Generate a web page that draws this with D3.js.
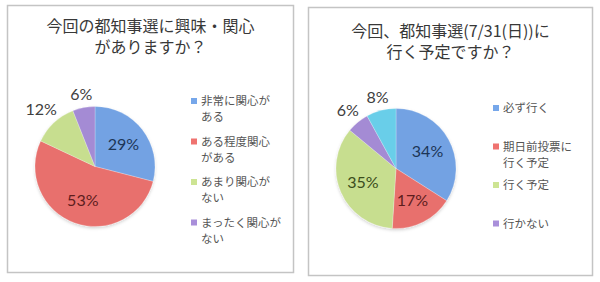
<!DOCTYPE html>
<html>
<head>
<meta charset="utf-8">
<script src="https://cdn.jsdelivr.net/npm/d3@7"></script>
<style>
  html, body { margin: 0; padding: 0; background: #fff; }
  svg { display: block; }
</style>
</head>
<body>
<svg id="chart" width="600" height="282"></svg>
<script>
// Survey: interest in the Tokyo gubernatorial election
const interestTitle = ["今回の都知事選に興味・関心", "がありますか？"];
const interestCategories = [["非常に関心が", "ある"], ["ある程度関心", "がある"], ["あまり関心が", "ない"], ["まったく関心が", "ない"]];
const interestValues = [29, 53, 12, 6];
const interestColors = ["#76a7ea", "#ef7370", "#cde493", "#a98fda"];
const interestLabelColors = ["#1c3557", "#5e1d1d", "#404040", "#404040"];

// Survey: plan to vote on election day
const voteTitle = ["今回、都知事選(7/31(日))に", "行く予定ですか？"];
const voteCategories = [["必ず行く"], ["期日前投票に", "行く予定"], ["行く予定"], ["行かない"], ["無回答"]];
const voteValues = [34, 17, 35, 6, 8];
const voteColors = ["#76a7ea", "#ef7370", "#cde493", "#a98fda", "#6cd4f0"];
const voteLabelColors = ["#1c3557", "#5e1d1d", "#3b4d1c", "#404040", "#404040"];
const voteLegendCount = 4;

const svg = d3.select("#chart");
const defs = svg.append("defs");

const shadow = defs.append("filter").attr("id", "pieShadow")
  .attr("x", "-20%").attr("y", "-20%").attr("width", "140%").attr("height", "140%");
shadow.append("feDropShadow").attr("dx", 0).attr("dy", 1.5)
  .attr("stdDeviation", 1.5).attr("flood-color", "#000").attr("flood-opacity", 0.18);

function panel(opts) {
  const g = svg.append("g");
  const midX = opts.frame[0] + opts.frame[2] / 2;

  // frame
  g.append("rect")
    .attr("x", opts.frame[0]).attr("y", opts.frame[1])
    .attr("width", opts.frame[2]).attr("height", opts.frame[3])
    .attr("fill", "#fff").attr("stroke", "#c4c4c4").attr("stroke-width", 1.5);

  // title, one text per line
  opts.title.forEach((line, i) => {
    g.append("text")
      .attr("x", midX)
      .attr("y", opts.titleY + i * 21)
      .attr("text-anchor", "middle")
      .attr("font-family", "'Noto Sans CJK JP', sans-serif")
      .attr("font-size", 16)
      .attr("fill", "#383838")
      .text(line);
  });

  // pie
  const [cx, cy] = opts.center;
  const r = opts.radius;
  const pie = d3.pie().sort(null).value(d => d)(opts.values);
  const arc = d3.arc().innerRadius(0).outerRadius(r);

  opts.colors.forEach((c, i) => {
    const grad = defs.append("radialGradient")
      .attr("id", `${opts.id}-grad-${i}`)
      .attr("gradientUnits", "userSpaceOnUse")
      .attr("cx", cx).attr("cy", cy - r * 0.2).attr("r", r * 1.2)
      .attr("fx", cx).attr("fy", cy - r * 0.2);
    grad.append("stop").attr("offset", "0%").attr("stop-color", d3.color(c).brighter(0.25));
    grad.append("stop").attr("offset", "100%").attr("stop-color", d3.color(c).darker(0.08));
  });

  g.append("g").attr("filter", "url(#pieShadow)")
    .selectAll("path").data(pie).join("path")
    .attr("transform", `translate(${cx},${cy})`)
    .attr("d", arc)
    .attr("fill", (d, i) => `url(#${opts.id}-grad-${i})`)
    .attr("stroke", "rgba(255,255,255,0.4)")
    .attr("stroke-width", 0.6);

  // percentage labels: large slices inside, small ones outside
  const total = d3.sum(opts.values);
  pie.forEach((d, i) => {
    const mid = (d.startAngle + d.endAngle) / 2;
    const inside = d.value / total >= 0.15;
    const text = `${d.value}%`;
    const fs = 16;
    const hw = text.length * fs * 0.27;
    const hh = fs * 0.5;
    const dist = inside
      ? r * 0.6
      : r + 4 + hw * Math.abs(Math.sin(mid)) + hh * Math.abs(Math.cos(mid));
    g.append("text")
      .attr("x", cx + dist * Math.sin(mid))
      .attr("y", cy - dist * Math.cos(mid))
      .attr("dy", "0.35em")
      .attr("text-anchor", "middle")
      .attr("font-family", "Lato, 'Noto Sans', sans-serif")
      .attr("font-size", fs)
      .attr("fill", opts.labelColors[i])
      .text(text);
  });

  // legend
  const lg = g.append("g").attr("transform", `translate(${opts.legend[0]},${opts.legend[1]})`);
  opts.categories.slice(0, opts.legendCount).forEach((lines, i) => {
    const row = lg.append("g").attr("transform", `translate(0,${opts.legendStep * i})`);
    row.append("rect")
      .attr("x", 0).attr("y", -3).attr("width", 6).attr("height", 6)
      .attr("fill", opts.colors[i]);
    lines.forEach((line, j) => {
      row.append("text")
        .attr("x", 10).attr("y", j * 16)
        .attr("dy", "0.35em")
        .attr("font-family", "'Noto Sans CJK JP', sans-serif")
        .attr("font-size", 11.5)
        .attr("fill", "#555")
        .text(line);
    });
  });
}

panel({
  id: "interest",
  frame: [7.5, 5.5, 286, 267],
  title: interestTitle,
  titleY: 32,
  center: [95, 166.5],
  radius: 60,
  values: interestValues,
  colors: interestColors,
  labelColors: interestLabelColors,
  categories: interestCategories,
  legendCount: interestCategories.length,
  legend: [191, 101],
  legendStep: 40.5
});

panel({
  id: "vote",
  frame: [308.5, 7.5, 284, 268],
  title: voteTitle,
  titleY: 37,
  center: [396, 168.5],
  radius: 60,
  values: voteValues,
  colors: voteColors,
  labelColors: voteLabelColors,
  categories: voteCategories,
  legendCount: voteLegendCount,
  legend: [493, 108],
  legendStep: 38.5
});
</script>
</body>
</html>
